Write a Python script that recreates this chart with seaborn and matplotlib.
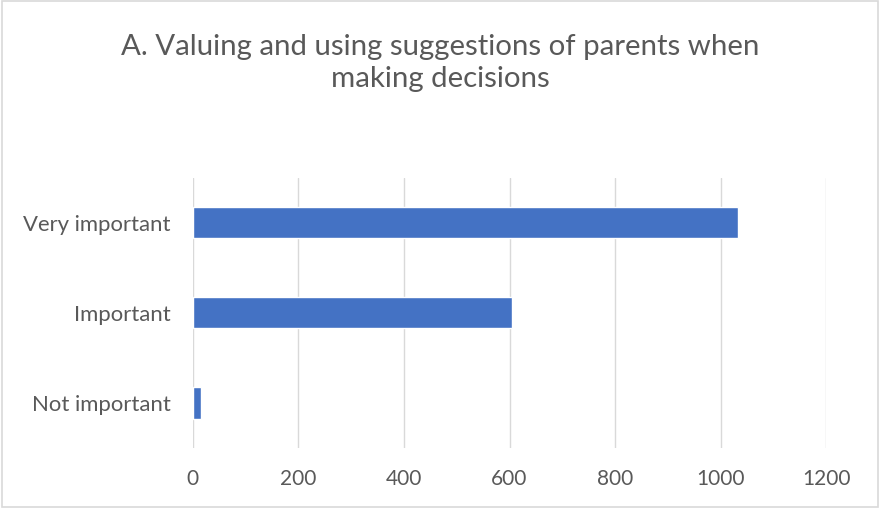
import numpy as np
import pandas as pd
import matplotlib
matplotlib.use("Agg")
import matplotlib.pyplot as plt
import seaborn as sns
from matplotlib.patches import Rectangle

# chart values
categories = ["Very important", "Important", "Not important"]
counts = [1032, 604, 15]
x_ticks = [0, 200, 400, 600, 800, 1000, 1200]
title = "A. Valuing and using suggestions of parents when\nmaking decisions"

sns.set_theme(style="white")
plt.rcParams['font.family'] = ['Lato', 'DejaVu Sans']

df = pd.DataFrame({"category": categories, "count": counts})

fig = plt.figure(figsize=(8.8, 5.08), dpi=100)
ax = fig.add_axes([0.219, 0.118, 0.72, 0.532])

sns.barplot(data=df, x="count", y="category", orient="h", color="#4472C4",
            width=0.345, saturation=1, ax=ax, zorder=3)

ax.set_xlim(0, 1200)
ax.set_ylim(2.5, -0.5)
ax.set_xticks(x_ticks)
ax.set_xticklabels([str(t) for t in x_ticks])
ax.grid(axis="x", color="#D9D9D9", linewidth=1, zorder=0)
ax.grid(axis="y", visible=False)
for s in ax.spines.values():
    s.set_visible(False)
ax.set_xlabel("")
ax.set_ylabel("")
ax.tick_params(axis="x", length=0, labelsize=15, labelcolor="#595959", pad=15)
ax.tick_params(axis="y", length=0, labelsize=15.9, labelcolor="#595959", pad=16)

fig.text(0.5, 0.876, title, ha="center", va="center", fontsize=21.2,
         color="#595959", linespacing=1.33)

# chart border
fig.patches.append(Rectangle((0.002, 0.002), 0.996, 0.996, transform=fig.transFigure,
                             fill=False, edgecolor="#D9D9D9", linewidth=1.2))

fig.savefig("out.png", dpi=100)
